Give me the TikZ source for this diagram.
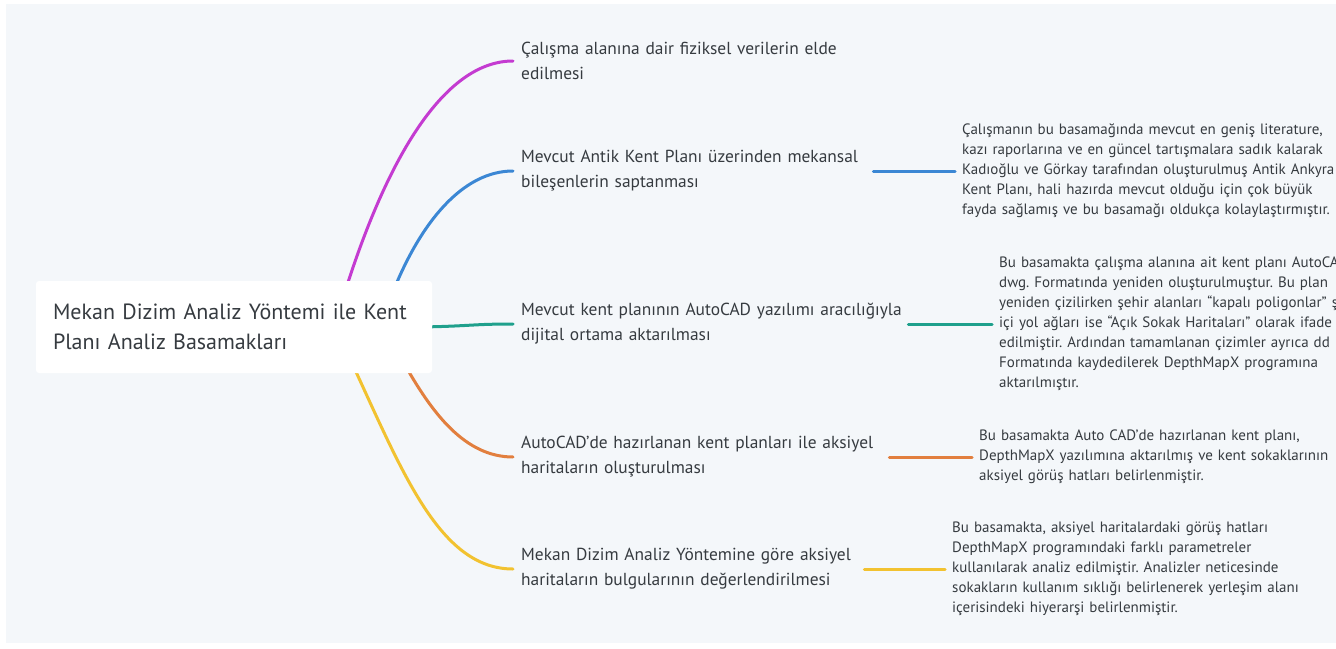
\documentclass[tikz,border=0pt]{standalone}
\usepackage{fontspec}
\setmainfont{PT Sans}
\usetikzlibrary{calc,backgrounds}
\definecolor{bg}{HTML}{F4F7FA}
\definecolor{txt}{HTML}{363B40}
\definecolor{cmag}{HTML}{C43BD1}
\definecolor{cblue}{HTML}{3B87D4}
\definecolor{cteal}{HTML}{1FA08C}
\definecolor{corange}{HTML}{E27F3E}
\definecolor{cyellow}{HTML}{F2C230}
\frenchspacing
\begin{document}
\begin{tikzpicture}[x=1pt,y=-1pt,
  rootbox/.style={fill=white, rounded corners=3pt, inner sep=0pt, align=left, text=txt,
    font=\frenchspacing\fontsize{22}{30}\selectfont},
  lvone/.style={anchor=west, inner sep=0pt, align=left, text=txt, font=\frenchspacing\fontsize{17.4}{25}\selectfont},
  lvtwo/.style={anchor=west, inner sep=0pt, align=left, text=txt, font=\frenchspacing\fontsize{15}{20}\selectfont, text width=440},
  link/.style={line width=3pt, line cap=round},
]
\useasboundingbox (0,0) rectangle (1336,648);
\begin{pgfonlayer}{background}
  \fill[white] (0,0) rectangle (1336,648);
  \fill[bg] (6,4) rectangle (1336,643);
\end{pgfonlayer}
\clip (0,0) rectangle (1336,648);

\node[rootbox, minimum width=396, minimum height=92, text width=362] (root) at (234,327)
  {Mekan Dizim Analiz Yöntemi ile Kent\\Planı Analiz Basamakları};

\node[lvone, text width=400] (b1) at (521,61)
  {\mbox{Çalışma alanına dair fiziksel verilerin elde}\\\mbox{edilmesi}};
\node[lvone, text width=352] (b2) at (521,171)
  {\mbox{Mevcut Antik Kent Planı üzerinden mekansal}\\\mbox{bileşenlerin saptanması}};
\node[lvone, text width=387] (b3) at (521,324)
  {\mbox{Mevcut kent planının AutoCAD yazılımı aracılığıyla}\\\mbox{dijital ortama aktarılması}};
\node[lvone, text width=368] (b4) at (521,457)
  {\mbox{AutoCAD’de hazırlanan kent planları ile aksiyel}\\\mbox{haritaların oluşturulması}};
\node[lvone, text width=343] (b5) at (521,569)
  {\mbox{Mekan Dizim Analiz Yöntemine göre aksiyel}\\\mbox{haritaların bulgularının değerlendirilmesi}};

\node[lvtwo] (c2) at (962,171)
  {\mbox{Çalışmanın bu basamağında mevcut en geniş literature,}\\
   \mbox{kazı raporlarına ve en güncel tartışmalara sadık kalarak}\\
   \mbox{Kadıoğlu ve Görkay tarafından oluşturulmuş Antik Ankyra}\\
   \mbox{Kent Planı, hali hazırda mevcut olduğu için çok büyük}\\
   \mbox{fayda sağlamış ve bu basamağı oldukça kolaylaştırmıştır.}};
\node[lvtwo] (c3) at (999,324)
  {\mbox{Bu basamakta çalışma alanına ait kent planı AutoCAD}\\
   \mbox{dwg. Formatında yeniden oluşturulmuştur. Bu plan}\\
   \mbox{yeniden çizilirken şehir alanları “kapalı poligonlar” şehir}\\
   \mbox{içi yol ağları ise “Açık Sokak Haritaları” olarak ifade}\\
   \mbox{edilmiştir. Ardından tamamlanan çizimler ayrıca dd}\\
   \mbox{Formatında kaydedilerek DepthMapX programına}\\
   \mbox{aktarılmıştır.}};
\node[lvtwo] (c4) at (979,457)
  {\mbox{Bu basamakta Auto CAD’de hazırlanan kent planı,}\\
   \mbox{DepthMapX yazılımına aktarılmış ve kent sokaklarının}\\
   \mbox{aksiyel görüş hatları belirlenmiştir.}};
\node[lvtwo] (c5) at (952,569)
  {\mbox{Bu basamakta, aksiyel haritalardaki görüş hatları}\\
   \mbox{DepthMapX programındaki farklı parametreler}\\
   \mbox{kullanılarak analiz edilmiştir. Analizler neticesinde}\\
   \mbox{sokakların kullanım sıklığı belirlenerek yerleşim alanı}\\
   \mbox{içerisindeki hiyerarşi belirlenmiştir.}};

\begin{pgfonlayer}{background}
  \draw[link,cmag] ($(root.north)+(111,11)$) .. controls +(41,-130) and +(-70,0) .. ([xshift=-8pt]b1.west);
  \draw[link,cblue] ($(root.north)+(159,11)$) .. controls +(28,-70) and +(-50,0) .. ([xshift=-8pt]b2.west);
  \draw[link,cteal] ($(root.east)+(-10,0)$) .. controls +(50,-1) and +(-40,0) .. ([xshift=-8pt]b3.west);
  \draw[link,corange] ($(root.south)+(170,-10)$) .. controls +(28,50) and +(-48,0) .. ([xshift=-8pt]b4.west);
  \draw[link,cyellow] ($(root.south)+(118,-10)$) .. controls +(51,110) and +(-73,0) .. ([xshift=-8pt]b5.west);
\end{pgfonlayer}

\draw[link,cblue] (b2.east) -- ([xshift=-7pt]c2.west);
\draw[link,cteal] (b3.east) -- ([xshift=-7pt]c3.west);
\draw[link,corange] (b4.east) -- ([xshift=-7pt]c4.west);
\draw[link,cyellow] (b5.east) -- ([xshift=-7pt]c5.west);
\end{tikzpicture}
\end{document}
